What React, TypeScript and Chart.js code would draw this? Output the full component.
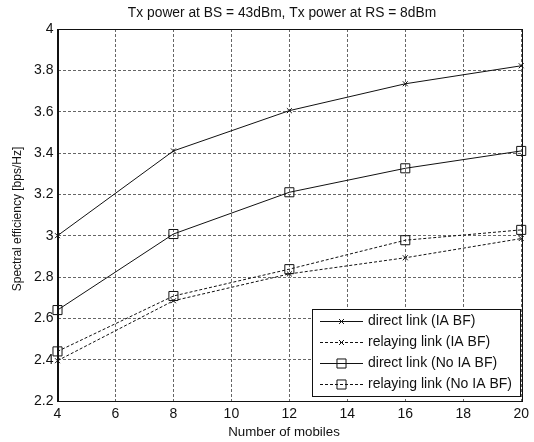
import React, { useEffect, useRef } from "react";
import { Chart, registerables } from "chart.js";

Chart.register(...registerables);

const chartTitle = "Tx power at BS = 43dBm, Tx power at RS = 8dBm";
const xTitle = "Number of mobiles";
const yTitle = "Spectral efficiency [bps/Hz]";

const mobiles = [4, 8, 12, 16, 20];
const directIA = [3.0, 3.41, 3.605, 3.735, 3.822];
const relayIA = [2.395, 2.685, 2.815, 2.893, 2.986];
const directNoIA = [2.64, 3.008, 3.21, 3.326, 3.41];
const relayNoIA = [2.44, 2.708, 2.838, 2.978, 3.028];

const seriesLabels = [
  "direct link (IA BF)",
  "relaying link (IA BF)",
  "direct link (No IA BF)",
  "relaying link (No IA BF)",
];

const xTickValues = [4, 6, 8, 10, 12, 14, 16, 18, 20];
const yTickValues = [2.2, 2.4, 2.6, 2.8, 3.0, 3.2, 3.4, 3.6, 3.8, 4.0];

const FONT = "'Liberation Sans', Arial, Helvetica, sans-serif";

function pts(ys: number[]) {
  return mobiles.map((x, i) => ({ x, y: ys[i] }));
}

function mkDataset(label: string, ys: number[], dashed: boolean, style: string) {
  const isRect = style === "rect";
  return {
    label,
    data: pts(ys),
    borderColor: "#111",
    borderWidth: 1,
    borderDash: dashed ? [3, 2] : [],
    pointStyle: style,
    pointRadius: isRect ? 6.4 : 3.5,
    pointBorderColor: "#111",
    pointBorderWidth: 1,
    pointBackgroundColor: "rgba(0,0,0,0)",
    tension: 0,
    fill: false,
    clip: false as any,
  };
}

const decorPlugin = {
  id: "decor",
  afterDraw(chart: any) {
    const { ctx, chartArea } = chart;
    const { left, right, top, bottom } = chartArea;
    ctx.save();
    // box
    ctx.strokeStyle = "#111";
    ctx.lineWidth = 1;
    ctx.setLineDash([]);
    ctx.strokeRect(Math.round(left) + 0.5, Math.round(top) + 0.5, Math.round(right - left), Math.round(bottom - top));

    // titles
    ctx.fillStyle = "#111";
    ctx.textAlign = "center";
    ctx.textBaseline = "middle";
    ctx.font = `13.8px ${FONT}`;
    ctx.fillText(chartTitle, 282, 13);
    ctx.font = `13.3px ${FONT}`;
    ctx.fillText(xTitle, 284, 432);
    ctx.save();
    ctx.font = `12px ${FONT}`;
    ctx.translate(18, 219);
    ctx.rotate(-Math.PI / 2);
    ctx.fillText(yTitle, 0, 0);
    ctx.restore();

    // legend
    const lx = 312, ly = 309, lw = 208, lh = 87;
    ctx.fillStyle = "#fff";
    ctx.fillRect(lx, ly, lw, lh);
    ctx.strokeStyle = "#111";
    ctx.strokeRect(lx + 0.5, ly + 0.5, lw, lh);
    const rowYs = [321, 342, 363, 384];
    chart.data.datasets.forEach((ds: any, i: number) => {
      const y = rowYs[i] + 0.5;
      ctx.beginPath();
      ctx.setLineDash(ds.borderDash || []);
      ctx.strokeStyle = "#111";
      ctx.lineWidth = 1;
      ctx.moveTo(320, y);
      ctx.lineTo(363, y);
      ctx.stroke();
      ctx.setLineDash([]);
      const cx = 341.5;
      ctx.beginPath();
      const s = ds.pointRadius * Math.SQRT1_2;
      if (ds.pointStyle === "rect") {
        ctx.rect(cx - s, y - s, 2 * s, 2 * s);
        ctx.stroke();
      } else {
        ctx.moveTo(cx - s, y - s);
        ctx.lineTo(cx + s, y + s);
        ctx.moveTo(cx - s, y + s);
        ctx.lineTo(cx + s, y - s);
        ctx.stroke();
      }
      ctx.fillStyle = "#111";
      ctx.font = `14px ${FONT}`;
      ctx.textAlign = "left";
      ctx.textBaseline = "middle";
      ctx.fillText(ds.label, 368, rowYs[i]);
    });
    ctx.restore();
  },
};

export default function App() {
  const ref = useRef<HTMLCanvasElement | null>(null);
  useEffect(() => {
    if (!ref.current) return;
    const chart = new Chart(ref.current, {
      type: "line",
      data: {
        datasets: [
          mkDataset(seriesLabels[0], directIA, false, "crossRot"),
          mkDataset(seriesLabels[1], relayIA, true, "crossRot"),
          mkDataset(seriesLabels[2], directNoIA, false, "rect"),
          mkDataset(seriesLabels[3], relayNoIA, true, "rect"),
        ] as any,
      },
      options: {
        animation: false,
        responsive: false,
        devicePixelRatio: 1,
        layout: { padding: { top: 29, right: 9.5, left: 0, bottom: 0 } },
        plugins: {
          legend: { display: false },
          title: { display: false },
          tooltip: { enabled: false },
        },
        scales: {
          x: {
            type: "linear",
            min: 4,
            max: 20,
            afterBuildTicks: (s: any) => {
              s.ticks = xTickValues.map((v) => ({ value: v }));
            },
            afterFit: (s: any) => {
              s.height = 41;
            },
            ticks: {
              color: "#111",
              font: { family: FONT, size: 14 },
              padding: 5,
              maxRotation: 0,
              autoSkip: false,
              callback: (v: any) => String(v),
            },
            grid: { color: "#666", lineWidth: 1, drawTicks: false },
            border: { display: true, color: "#111", dash: [3, 2] },
          },
          y: {
            type: "linear",
            min: 2.2,
            max: 4,
            afterBuildTicks: (s: any) => {
              s.ticks = yTickValues.map((v) => ({ value: v }));
            },
            afterFit: (s: any) => {
              s.width = 57.5;
            },
            ticks: {
              color: "#111",
              font: { family: FONT, size: 14 },
              padding: 4,
              autoSkip: false,
              callback: (v: any) => {
                const n = Number(v);
                return Math.abs(n - Math.round(n)) < 1e-9 ? String(Math.round(n)) : n.toFixed(1);
              },
            },
            grid: { color: "#666", lineWidth: 1, drawTicks: false },
            border: { display: true, color: "#111", dash: [3, 2] },
          },
        },
      } as any,
      plugins: [decorPlugin],
    });
    return () => chart.destroy();
  }, []);
  return (
    <div style={{ position: "fixed", left: 0, top: 0, width: 534, height: 442, background: "#fff" }}>
      <canvas ref={ref} width={534} height={442} style={{ width: 534, height: 442 }} />
    </div>
  );
}
